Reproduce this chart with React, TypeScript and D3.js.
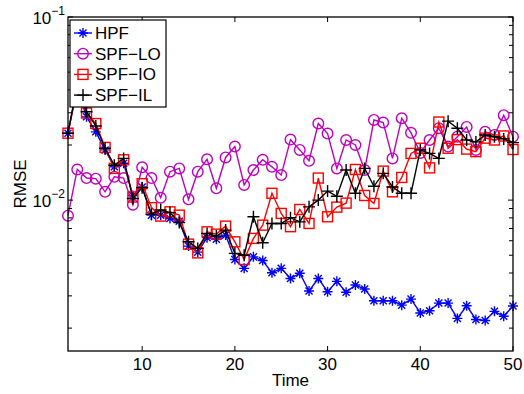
import * as d3 from "d3";

// time steps 2..50
const time = [2, 3, 4, 5, 6, 7, 8, 9, 10, 11, 12, 13, 14, 15, 16, 17, 18, 19, 20, 21, 22, 23, 24, 25, 26,
  27, 28, 29, 30, 31, 32, 33, 34, 35, 36, 37, 38, 39, 40, 41, 42, 43, 44, 45, 46, 47, 48, 49, 50];

const hpf = [0.0232, 0.0409, 0.0285, 0.0236, 0.0188, 0.0152, 0.0159, 0.0106, 0.0118, 0.00828,
  0.00828, 0.00794, 0.00767, 0.00561, 0.0052, 0.00624, 0.00612, 0.00644, 0.00474, 0.00424,
  0.0049, 0.00468, 0.00401, 0.00424, 0.00373, 0.00399, 0.00319, 0.00373, 0.00316, 0.0036,
  0.00314, 0.00344, 0.00327, 0.00282, 0.00282, 0.00282, 0.00267, 0.00288, 0.00242, 0.00249,
  0.00274, 0.00274, 0.00226, 0.00265, 0.00223, 0.0022, 0.00247, 0.00232, 0.00264];

const spfLO = [0.00822, 0.0147, 0.0132, 0.0131, 0.0111, 0.0134, 0.0132, 0.00944, 0.0151, 0.0132,
  0.0103, 0.0143, 0.0149, 0.0101, 0.0143, 0.0167, 0.0116, 0.0171, 0.0196, 0.0121,
  0.0146, 0.0166, 0.0152, 0.0137, 0.0214, 0.0188, 0.0164, 0.0262, 0.0231, 0.0149,
  0.0213, 0.02, 0.0146, 0.0274, 0.0265, 0.0169, 0.028, 0.0233, 0.0181, 0.0213,
  0.0247, 0.0196, 0.0222, 0.0251, 0.0188, 0.0236, 0.0227, 0.0291, 0.0222];

const spfIO = [0.0232, 0.042, 0.0299, 0.0262, 0.0194, 0.0149, 0.0166, 0.0104, 0.0123, 0.0091,
  0.00818, 0.00863, 0.00828, 0.00575, 0.00515, 0.00671, 0.00652, 0.00721, 0.00592, 0.00474,
  0.00618, 0.0073, 0.0109, 0.00846, 0.00716, 0.00889, 0.00746, 0.0132, 0.00811, 0.00916,
  0.00963, 0.0147, 0.0106, 0.00959, 0.0144, 0.0111, 0.0133, 0.018, 0.0192, 0.015,
  0.0267, 0.0192, 0.0214, 0.019, 0.0184, 0.0218, 0.0213, 0.0224, 0.0189];

const spfIL = [0.0232, 0.043, 0.0304, 0.0254, 0.0192, 0.0155, 0.0169, 0.0102, 0.0117, 0.00838,
  0.00885, 0.00855, 0.00754, 0.00592, 0.00545, 0.00658, 0.00636, 0.00686, 0.00512, 0.005,
  0.00811, 0.00585, 0.00746, 0.00746, 0.00802, 0.00761, 0.00919, 0.01, 0.0112, 0.0105,
  0.0146, 0.0109, 0.0149, 0.0119, 0.014, 0.0118, 0.0109, 0.0109, 0.0188, 0.018,
  0.0169, 0.027, 0.0247, 0.0213, 0.0208, 0.0227, 0.0222, 0.0216, 0.0206];

const xTicks = [10, 20, 30, 40, 50];
const yMajor = [0.1, 0.01];
const yMajorExp = ["\u22121", "\u22122"];
const yMinor = [0.002, 0.003, 0.004, 0.005, 0.006, 0.007, 0.008, 0.009,
  0.02, 0.03, 0.04, 0.05, 0.06, 0.07, 0.08, 0.09];

const seriesNames = ["HPF", "SPF\u2212LO", "SPF\u2212IO", "SPF\u2212IL"];
const seriesData = [hpf, spfLO, spfIO, spfIL];
const seriesColors = ["#0000ff", "#bf00bf", "#ff0000", "#000000"];
const seriesMarkers = ["star", "circle", "square", "plus"];

const W = 524;
const H = 394;
const margin = { top: 17, right: 11, bottom: 43, left: 68 };
const font = "'Liberation Sans', Arial, Helvetica, sans-serif";

function Marker({ kind, x, y, color }: { kind: string; x: number; y: number; color: string }) {
  const sw = 1.4;
  if (kind === "circle") {
    return <circle cx={x} cy={y} r={5.3} fill="none" stroke={color} strokeWidth={sw} />;
  }
  if (kind === "square") {
    return <rect x={x - 5} y={y - 5} width={10} height={10} fill="none" stroke={color} strokeWidth={sw} />;
  }
  if (kind === "plus") {
    const r = 6;
    return (
      <path d={`M${x - r},${y}H${x + r}M${x},${y - r}V${y + r}`} stroke={color} strokeWidth={sw} fill="none" />
    );
  }
  const r = 5;
  const d = r * 0.707;
  return (
    <path
      d={`M${x - r},${y}H${x + r}M${x},${y - r}V${y + r}M${x - d},${y - d}L${x + d},${y + d}M${x - d},${y + d}L${x + d},${y - d}`}
      stroke={color}
      strokeWidth={sw}
      fill="none"
    />
  );
}

export default function App() {
  const x = d3.scaleLinear().domain([2, 50]).range([margin.left, W - margin.right]);
  const y = d3.scaleLog().domain([0.0015, 0.1]).range([H - margin.bottom, margin.top]);
  const x0 = margin.left;
  const x1 = W - margin.right;
  const y0 = H - margin.bottom;
  const y1 = margin.top;
  const tl = 5;

  const line = d3
    .line<number>()
    .x((_, i) => x(time[i]))
    .y((d) => y(d));

  const legendX = 70;
  const legendY = 20;
  const rowH = 20.7;

  return (
    <div style={{ position: "absolute", left: 0, top: 0 }}>
      <svg width={W} height={H} style={{ display: "block", background: "#fff" }} fontFamily={font}>
        <rect x={0} y={0} width={W} height={H} fill="#fff" />

        {/* series */}
        {seriesData.map((s, si) => (
          <g key={si}>
            <path d={line(s) ?? ""} fill="none" stroke={seriesColors[si]} strokeWidth={1.4} />
            {s.map((v, i) => (
              <Marker key={i} kind={seriesMarkers[si]} x={x(time[i])} y={y(v)} color={seriesColors[si]} />
            ))}
          </g>
        ))}

        {/* axes box */}
        <rect x={x0} y={y1} width={x1 - x0} height={y0 - y1} fill="none" stroke="#000" strokeWidth={1.3} />

        {/* x ticks */}
        {xTicks.map((t) => (
          <g key={t}>
            <line x1={x(t)} x2={x(t)} y1={y0} y2={y0 - tl} stroke="#000" />
            <line x1={x(t)} x2={x(t)} y1={y1} y2={y1 + tl} stroke="#000" />
            <text x={x(t)} y={y0 + 19} textAnchor="middle" fontSize={17}>
              {t}
            </text>
          </g>
        ))}

        {/* y ticks */}
        {yMajor.map((t, i) => (
          <g key={t}>
            <line x1={x0} x2={x0 + tl} y1={y(t)} y2={y(t)} stroke="#000" />
            <line x1={x1} x2={x1 - tl} y1={y(t)} y2={y(t)} stroke="#000" />
            <text x={x0 - 3} y={y(t) + 6.5} textAnchor="end" fontSize={17}>
              <tspan>10</tspan>
              <tspan dy={-9} fontSize={12}>
                {yMajorExp[i]}
              </tspan>
            </text>
          </g>
        ))}
        {yMinor.map((t) => (
          <g key={t}>
            <line x1={x0} x2={x0 + tl - 1} y1={y(t)} y2={y(t)} stroke="#000" />
            <line x1={x1} x2={x1 - tl + 1} y1={y(t)} y2={y(t)} stroke="#000" />
          </g>
        ))}

        {/* axis titles */}
        <text x={(x0 + x1) / 2} y={y0 + 35} textAnchor="middle" fontSize={17}>
          Time
        </text>
        <text
          transform={`translate(${26},${(y0 + y1) / 2}) rotate(-90)`}
          textAnchor="middle"
          fontSize={17}
        >
          RMSE
        </text>

        {/* legend */}
        <rect x={legendX} y={legendY} width={96} height={87} fill="#fff" stroke="#000" strokeWidth={1.2} />
        {seriesNames.map((n, i) => {
          const cy = legendY + 13 + i * rowH;
          return (
            <g key={n}>
              <line x1={legendX + 4} x2={legendX + 22} y1={cy} y2={cy} stroke={seriesColors[i]} strokeWidth={1.4} />
              <Marker kind={seriesMarkers[i]} x={legendX + 13} y={cy} color={seriesColors[i]} />
              <text x={legendX + 25} y={cy + 6} fontSize={17}>
                {n}
              </text>
            </g>
          );
        })}
      </svg>
    </div>
  );
}
